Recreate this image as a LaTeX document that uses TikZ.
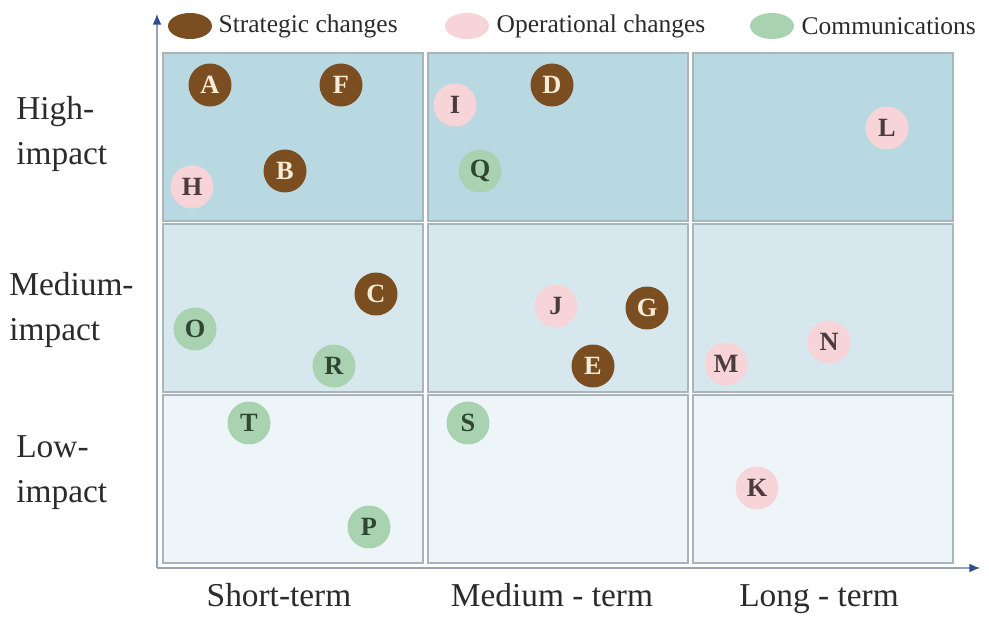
\documentclass[tikz,border=0pt]{standalone}
\usepackage{fontspec}
\setmainfont{Liberation Serif}
\usetikzlibrary{positioning,arrows.meta,shapes.geometric}

\definecolor{highrow}{HTML}{B9D9E2}
\definecolor{medrow}{HTML}{D6E8EE}
\definecolor{lowrow}{HTML}{EEF5F8}
\definecolor{cellline}{HTML}{A9B5BC}
\definecolor{strat}{HTML}{7B4E22}
\definecolor{stratink}{HTML}{F6EBD6}
\definecolor{oper}{HTML}{F7D4D8}
\definecolor{operink}{HTML}{4A3C3C}
\definecolor{comm}{HTML}{A9D3B0}
\definecolor{commink}{HTML}{2F4634}
\definecolor{axisline}{HTML}{98A4B4}
\definecolor{axistip}{HTML}{2E4C8F}
\definecolor{labelink}{HTML}{2B2B2B}

\tikzset{
  cell/.style={draw=cellline, line width=0.9pt, minimum width=5.2cm, minimum height=3.36cm, inner sep=0pt},
  item/.style={circle, minimum size=0.86cm, inner sep=0pt, font=\fontsize{15}{15}\selectfont\bfseries},
  strategic/.style={item, fill=strat, text=stratink},
  operational/.style={item, fill=oper, text=operink},
  communication/.style={item, fill=comm, text=commink},
  key/.style={ellipse, minimum width=0.88cm, minimum height=0.52cm, inner sep=0pt},
  keytext/.style={font=\fontsize{14.5}{16}\selectfont, text=labelink, inner sep=0pt},
  impact/.style={font=\fontsize{19}{25.5}\selectfont, text=labelink, align=left, inner sep=0pt, anchor=west},
  term/.style={font=\fontsize{19}{22}\selectfont, text=labelink, inner sep=0pt},
  axis/.style={draw=axisline, line width=0.8pt, -{Latex[length=6pt, width=5pt, color=axistip]}}
}

\begin{document}
\begin{tikzpicture}[x=0.02cm, y=-0.02cm]
\useasboundingbox (0,0) rectangle (989,617);
% cells
\node [cell, fill=highrow, anchor=north west] (hs) at (162,52) {};
\node [cell, fill=highrow, right=0.07cm of hs] (hm) {};
\node [cell, fill=highrow, right=0.07cm of hm] (hl) {};
\node [cell, fill=medrow, below=0.03cm of hs] (ms) {};
\node [cell, fill=medrow, right=0.07cm of ms] (mm) {};
\node [cell, fill=medrow, right=0.07cm of mm] (ml) {};
\node [cell, fill=lowrow, below=0.03cm of ms] (ls) {};
\node [cell, fill=lowrow, right=0.07cm of ls] (lm) {};
\node [cell, fill=lowrow, right=0.07cm of lm] (ll) {};
% axes
\coordinate (origin) at (157,568);
\coordinate (ytop) at (157,14);
\coordinate (xend) at (980,568);
\draw [axis] (origin) -- (ytop);
\draw [axis] (origin) -- (xend);
% legend
\node [key, fill=strat] (kstrat) at (190,26) {};
\node [keytext, right=0.12cm of kstrat] (tstrat) {Strategic changes};
\node [key, fill=oper] (koper) at (467,26) {};
\node [keytext, right=0.14cm of koper] (toper) {Operational changes};
\node [key, fill=comm] (kcomm) at (772,26) {};
\node [keytext, right=0.14cm of kcomm] (tcomm) {Communications};
% impact labels
\node [impact] (high) at (16,134) {High-\\impact};
\node [impact] (medium) at (9,310) {Medium-\\impact};
\node [impact] (low) at (16,473) {Low-\\impact};
% term labels
\node [term] (short) at (279,595) {Short-term};
\node [term] (mediumterm) at (552,595) {Medium - term};
\node [term] (long) at (819,599) {Long - term};
% strategic changes
\node [strategic] (A) at (210,85) {A};
\node [strategic] (F) at (341,85) {F};
\node [strategic] (D) at (552,85) {D};
\node [strategic] (B) at (285,171) {B};
\node [strategic] (C) at (376,294) {C};
\node [strategic] (G) at (647,308) {G};
\node [strategic] (E) at (593,366) {E};
% operational changes
\node [operational] (I) at (455,105) {I};
\node [operational] (L) at (887,128) {L};
\node [operational] (H) at (192,187) {H};
\node [operational] (J) at (556,306) {J};
\node [operational] (N) at (829,342) {N};
\node [operational] (M) at (726,364) {M};
\node [operational] (K) at (757,488) {K};
% communications
\node [communication] (Q) at (480,171) {Q};
\node [communication] (O) at (195,329) {O};
\node [communication] (R) at (334,366) {R};
\node [communication] (T) at (249,423) {T};
\node [communication] (S) at (468,423) {S};
\node [communication] (P) at (369,527) {P};
\end{tikzpicture}
\end{document}
